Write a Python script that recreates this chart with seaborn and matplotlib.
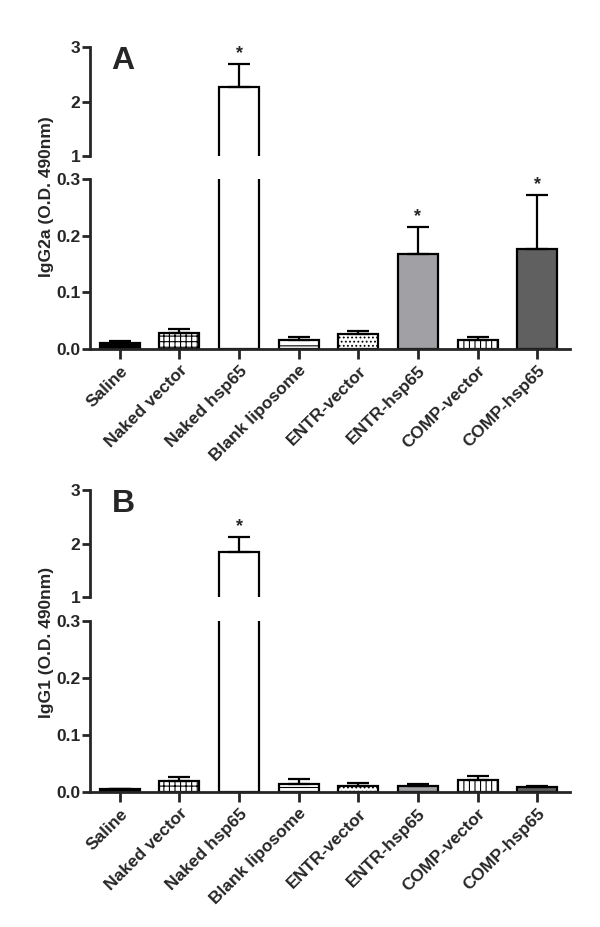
import matplotlib
matplotlib.use('Agg')
import matplotlib.pyplot as plt
import seaborn as sns

groups = ['Saline', 'Naked vector', 'Naked hsp65', 'Blank liposome',
          'ENTR-vector', 'ENTR-hsp65', 'COMP-vector', 'COMP-hsp65']

igg2a_mean = [0.010, 0.028, 2.27, 0.016, 0.026, 0.167, 0.016, 0.176]
igg2a_err = [0.005, 0.008, 0.42, 0.005, 0.005, 0.049, 0.005, 0.096]
igg2a_stars = [2, 5, 7]

igg1_mean = [0.005, 0.019, 1.84, 0.014, 0.010, 0.010, 0.021, 0.008]
igg1_err = [0.001, 0.007, 0.29, 0.008, 0.005, 0.004, 0.007, 0.003]
igg1_stars = [2]

fills = ['black', 'white', 'white', 'white', 'white', '#a1a1a5', 'white', '#606060']
hatches = ['', '+++', '', '--', '....', '', '|||', '']

sns.set_style('ticks')
plt.rcParams['font.family'] = ['Liberation Sans', 'DejaVu Sans']
plt.rcParams['font.weight'] = 'bold'
plt.rcParams['hatch.linewidth'] = 0.8

fig = plt.figure(figsize=(6, 9.27), dpi=100)
H = 927


def draw_bars(ax, mean, err):
    sns.barplot(x=groups, y=mean, hue=groups, palette=fills, legend=False,
                edgecolor='black', linewidth=1.6, width=0.67, saturation=1,
                errorbar=None, ax=ax)
    for p, h in zip(ax.patches, hatches):
        p.set_hatch(h)
    ax.errorbar(range(len(groups)), mean, yerr=[[0] * len(err), err],
                fmt='none', ecolor='black', elinewidth=1.6, capsize=8,
                capthick=1.6, zorder=1)
    ax.set_xlim(-0.5, 7.55)
    ax.set_ylabel('')
    ax.set_xlabel('')


def panel(top3, y1, y03, y0, mean, err, stars, letter, ylabel, lab_y):
    left, width = 90 / 600, (570 - 90) / 600
    ax_up = fig.add_axes([left, 1 - y1 / H, width, (y1 - top3) / H])
    ax_lo = fig.add_axes([left, 1 - y0 / H, width, (y0 - y03) / H])
    draw_bars(ax_up, mean, err)
    draw_bars(ax_lo, mean, err)

    ax_up.set_ylim(1, 3)
    ax_up.set_yticks([1, 2, 3])
    ax_up.set_xticks([])
    sns.despine(ax=ax_up, bottom=True)
    ax_lo.set_ylim(0, 0.3)
    ax_lo.set_yticks([0, 0.1, 0.2, 0.3])
    ax_lo.set_yticklabels(['0.0', '0.1', '0.2', '0.3'])
    sns.despine(ax=ax_lo)
    ax_lo.set_xticks(range(len(groups)))
    ax_lo.set_xticklabels(groups, rotation=45, ha='right', rotation_mode='anchor',
                          fontsize=13.5, fontweight='bold')

    for ax in (ax_up, ax_lo):
        for s in ax.spines.values():
            s.set_linewidth(2)
        ax.tick_params(width=2, length=6, labelsize=12.5, pad=1)
        for t in ax.get_yticklabels():
            t.set_fontweight('bold')
    ax_lo.tick_params(axis='x', length=7, pad=3)

    for i in stars:
        top = mean[i] + err[i]
        ax = ax_up if top > 1 else ax_lo
        ax.annotate('*', xy=(i, top), xytext=(0, 1), textcoords='offset points',
                    ha='center', va='bottom', fontsize=13, fontweight='bold')

    fig.text(123 / 600, 1 - (top3 + 14) / H, letter, fontsize=23,
             fontweight='bold', ha='center', va='center')
    fig.text(47 / 600, 1 - lab_y / H, ylabel, rotation=90, fontsize=12.5,
             fontweight='bold', ha='center', va='center')


panel(47, 156, 179, 349, igg2a_mean, igg2a_err, igg2a_stars, 'A',
      'IgG2a (O.D. 490nm)', 197)
panel(490, 597, 621, 792, igg1_mean, igg1_err, igg1_stars, 'B',
      'IgG1 (O.D. 490nm)', 642)

fig.savefig('out.png', dpi=100)
